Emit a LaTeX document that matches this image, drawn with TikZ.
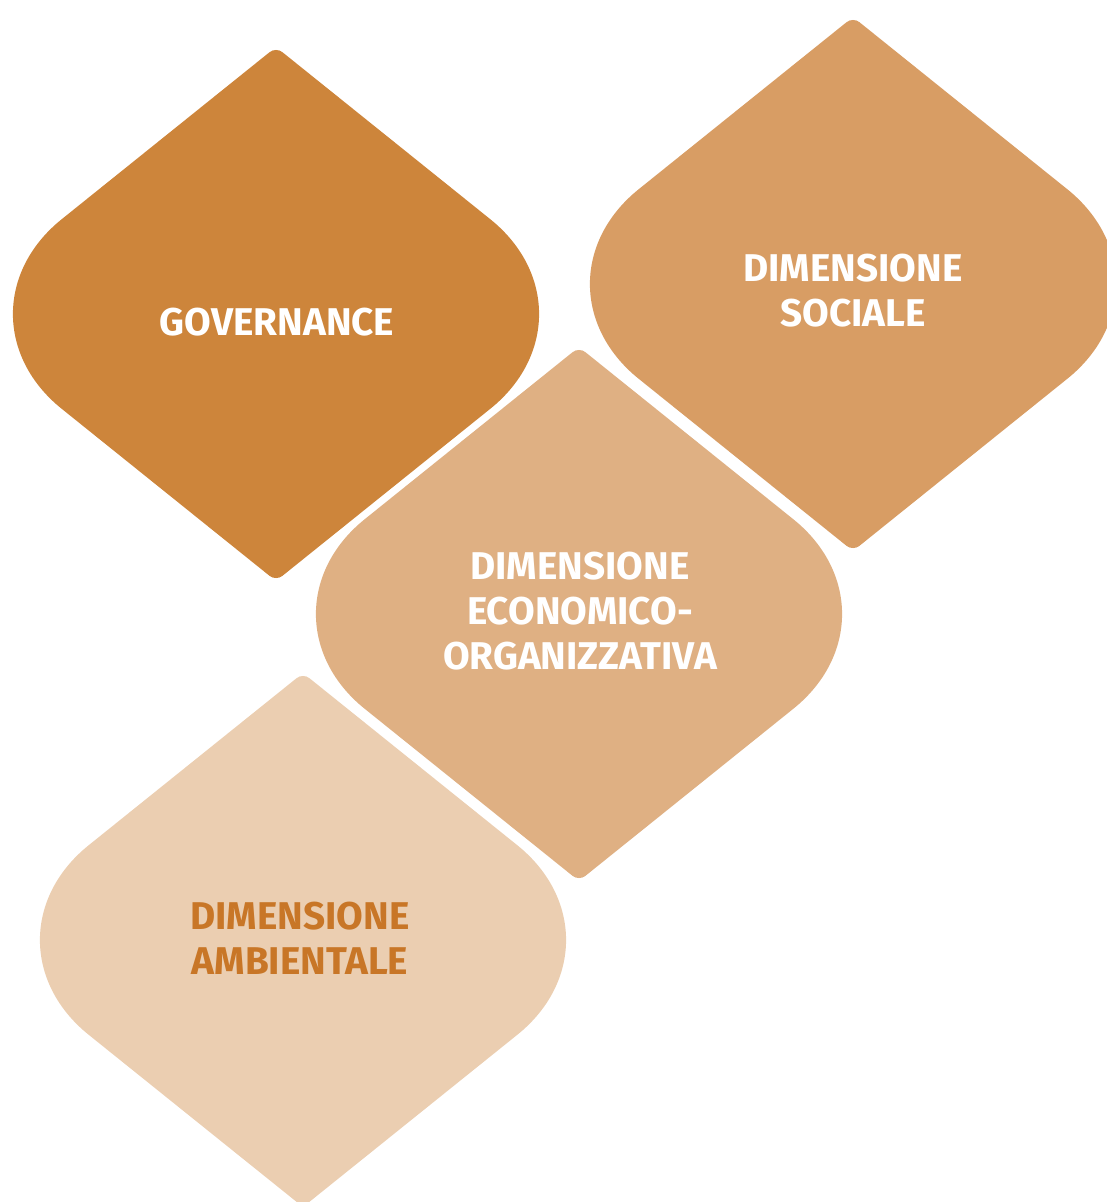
\documentclass[tikz,border=0pt]{standalone}
\usepackage{fontspec}
\setmainfont{Fira Sans}
\usepackage{tikz}

\definecolor{govcol}{HTML}{CD853B}
\definecolor{soccol}{HTML}{D89D64}
\definecolor{ecocol}{HTML}{DFB083}
\definecolor{ambcol}{HTML}{EBCEB1}
\definecolor{ambtext}{HTML}{C87627}

% rounded diamond, centre (#1,#2), fill #3
\newcommand{\petal}[3]{%
  \fill[#3, shift={(#1,#2)}] (-6.2,-262) .. controls (-2.8,-264.7) and (2.8,-264.7) .. (6.2,-262)
    -- (214.4,-94.7) .. controls (279.3,-42.4) and (279.3,42.4) .. (214.4,94.7)
    -- (6.2,262) .. controls (2.8,264.7) and (-2.8,264.7) .. (-6.2,262)
    -- (-214.4,94.7) .. controls (-279.3,42.4) and (-279.3,-42.4) .. (-214.4,-94.7) -- cycle;}

\begin{document}
\begin{tikzpicture}[x=0.01cm, y=-0.01cm,
  dimtext/.style={font=\bfseries\fontsize{11}{12.8}\selectfont, text=white, align=center, inner sep=0pt}]
	\useasboundingbox (0,0) rectangle (1107,1202);
	\clip (0,0) rectangle (1107,1202);
	\petal{276}{314}{govcol}
	\petal{853}{284}{soccol}
	\petal{579}{614}{ecocol}
	\petal{303}{940}{ambcol}
	\node[dimtext] (gov) at (277,322) {GOVERNANCE};
	\node[dimtext] (soc) at (853,291) {DIMENSIONE\\SOCIALE};
	\node[dimtext] (eco) at (580,611) {DIMENSIONE\\ECONOMICO-\\ORGANIZZATIVA};
	\node[dimtext, text=ambtext] (amb) at (300,938) {DIMENSIONE\\AMBIENTALE};
\end{tikzpicture}
\end{document}
